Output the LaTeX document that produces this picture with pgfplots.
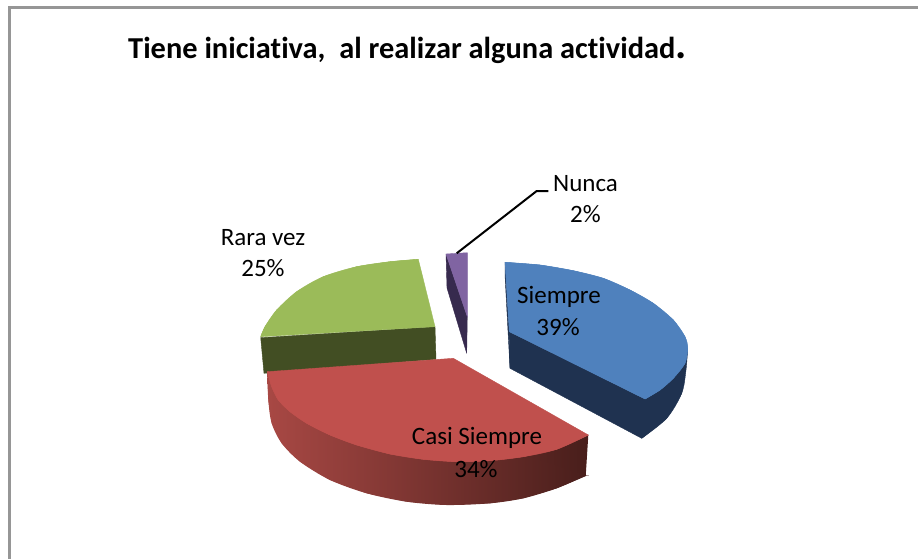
\documentclass[border=0pt]{standalone}
\usepackage{pgfplots}
\pgfplotsset{compat=1.18}
\usepackage{fontspec}
\setmainfont[Ligatures=NoCommon]{Carlito}
\definecolor{bluetop}{RGB}{79,129,189}
\definecolor{blueside}{RGB}{31,50,80}
\definecolor{redtop}{RGB}{192,80,77}
\definecolor{redl}{RGB}{168,72,68}
\definecolor{redm}{RGB}{125,50,47}
\definecolor{redr}{RGB}{72,30,27}
\definecolor{greentop}{RGB}{155,187,89}
\definecolor{greenside}{RGB}{66,78,35}
\definecolor{purptop}{RGB}{128,100,162}
\definecolor{purpside}{RGB}{55,42,78}
\definecolor{frame}{RGB}{150,150,150}
\begin{document}
\begin{tikzpicture}
\begin{axis}[
  scale only axis, width=918pt, height=559pt,
  xmin=0, xmax=918, ymin=0, ymax=559, y dir=reverse,
  hide axis, clip=false,
]
\addplot[fill=white, draw=none] coordinates {(0,0)(918,0)(918,559)(0,559)} -- cycle;
\addplot[frame, line width=2.5pt, line cap=rect] coordinates {(9.3,557.75)(9.3,7.3)(916.75,7.3)};
% Siempre
\addplot[fill=blueside, draw=blueside, line join=round] coordinates {(505,262.3)(505,275)(510,368.3)(509.3,331.7)} -- cycle;
\addplot[fill=blueside, draw=blueside, line join=round] coordinates {(509.3,331.7)(645,399)(660,390)(673.3,378.3)(685,363.3)(687.7,348.3)(686,363)(681.7,393.3)(666.7,418.3)(641.7,438.3)(510,368.3)} -- cycle;
\addplot[fill=blueside, draw=blueside, smooth] coordinates {(687.7,348.3)(686,370)(681.7,393.3)(666.7,418.3)(641.7,438.3)};
\addplot[fill=bluetop, draw=bluetop, line join=round] coordinates {(505,262.3)(540,265)(573.3,270.7)(603.3,278.3)(630,290)(653.3,303.3)(673.3,320)(685,336.7)(687.7,348.3)(685,363.3)(673.3,378.3)(660,390)(645,399)(509.3,331.7)} -- cycle;
\addplot[fill=bluetop, draw=bluetop, smooth] coordinates {(505,262.3)(540,265)(573.3,270.7)(603.3,278.3)(630,290)(653.3,303.3)(673.3,320)(685,336.7)(687.7,348.3)(685,363.3)(673.3,378.3)(660,390)(645,399)};
% Rara vez
\addplot[fill=greenside, draw=greenside] coordinates {(260.7,337.7)(435,326.7)(436,359.3)(264,373.3)} -- cycle;
\addplot[fill=greentop, draw=greentop, line join=round] coordinates {(418.3,259.3)(390,261.7)(356.7,266.7)(323.3,276.7)(296.7,291.7)(276.7,310)(265,326.7)(260.7,336.7)(435,326.7)} -- cycle;
\addplot[fill=greentop, draw=greentop, smooth] coordinates {(418.3,259.3)(390,261.7)(356.7,266.7)(323.3,276.7)(296.7,291.7)(276.7,310)(265,326.7)(260.7,336.7)};
% Casi Siempre
\addplot[draw=none, left color=redl, middle color=redm, right color=redr] coordinates {(588.3,435)(585.7,476)(556.7,488.3)(523.3,498.3)(490,503.3)(446.7,505)(406.7,501.7)(366.7,493.3)(330,480)(300,461.7)(281.7,443.3)(271.7,423.3)(268.3,400)(267.3,371.7)} -- cycle;
\addplot[draw=none, smooth, left color=redl, middle color=redm, right color=redr] coordinates {(588.3,476)(585.7,476)(556.7,488.3)(523.3,498.3)(490,503.3)(446.7,505)(406.7,501.7)(366.7,493.3)(330,480)(300,461.7)(281.7,443.3)(271.7,423.3)(268.3,400)(267.3,371.7)};
\addplot[fill=redtop, draw=redtop, line join=round] coordinates {(453.3,358.3)(588.3,435)(556.7,449.3)(523.3,456.7)(490,460.7)(456.7,461.7)(423.3,459.3)(390,454)(356.7,445)(330,435)(306.7,423.3)(290,411.7)(278.3,400)(271.7,386.7)(267.3,371.7)} -- cycle;
\addplot[fill=redtop, draw=redtop, smooth] coordinates {(588.3,435)(556.7,449.3)(523.3,456.7)(490,460.7)(456.7,461.7)(423.3,459.3)(390,454)(356.7,445)(330,435)(306.7,423.3)(290,411.7)(278.3,400)(271.7,386.7)(267.3,371.7)};
% Nunca
\addplot[fill=purpside, draw=purpside, line join=round] coordinates {(446,254)(447,288)(466.7,353.3)(467.3,316.7)} -- cycle;
\addplot[fill=purptop, draw=purptop, line join=round] coordinates {(446,254)(467.3,252.7)(467.3,316.7)} -- cycle;
\addplot[black, line width=2pt] coordinates {(456.7,253.3)(536.7,191)(548.3,191)};
% Text
\node[font=\bfseries\fontsize{30.4}{34}\selectfont, anchor=base west, inner sep=0pt] at (axis cs:128,59) {Tiene iniciativa,\ \ al realizar alguna actividad\fontsize{42}{44}\selectfont.};
\node[font=\fontsize{25}{28}\selectfont] at (axis cs:585.5,184) {Nunca};
\node[font=\fontsize{25}{28}\selectfont] at (axis cs:585.5,214) {2\%};
\node[font=\fontsize{25}{28}\selectfont] at (axis cs:263,237.5) {Rara vez};
\node[font=\fontsize{25}{28}\selectfont] at (axis cs:263,268) {25\%};
\node[font=\fontsize{25}{28}\selectfont] at (axis cs:559,297) {Siempre};
\node[font=\fontsize{25}{28}\selectfont] at (axis cs:558,327) {39\%};
\node[font=\fontsize{25}{28}\selectfont] at (axis cs:477,438) {Casi Siempre};
\node[font=\fontsize{25}{28}\selectfont] at (axis cs:476,469) {34\%};
\end{axis}
\end{tikzpicture}
\end{document}
